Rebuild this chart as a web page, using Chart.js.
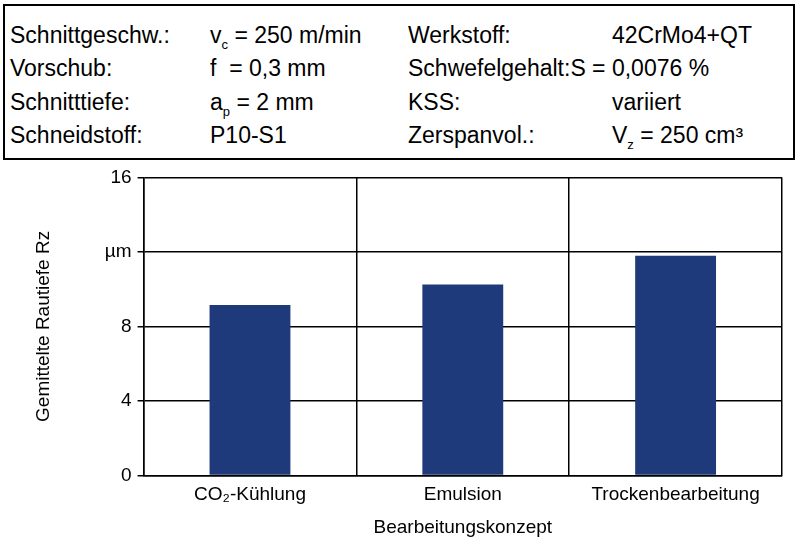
<!DOCTYPE html>
<html><head><meta charset="utf-8">
<script src="https://cdn.jsdelivr.net/npm/chart.js@4"></script>
<style>
body{margin:0;width:800px;height:545px;background:#fff;font-family:"Liberation Sans",Arial,sans-serif;position:relative;overflow:hidden}
#box{position:absolute;left:3px;top:4px;width:788px;height:152px;border:2px solid #000;}
.t{position:absolute;font-size:23px;color:#000;white-space:nowrap}
sub{font-size:13px;color:#000}
#wrap{position:absolute;left:0;top:160px;width:800px;height:385px}
</style></head><body>
<div id="box">
<div class="t" style="left:5px;top:16px">Schnittgeschw.:</div>
<div class="t" style="left:205px;top:16px">v<sub>c</sub> = 250 m/min</div>
<div class="t" style="left:403px;top:16px">Werkstoff:</div>
<div class="t" style="left:607px;top:16px">42CrMo4+QT</div>
<div class="t" style="left:5px;top:49px">Vorschub:</div>
<div class="t" style="left:205px;top:49px">f&nbsp; = 0,3 mm</div>
<div class="t" style="left:403px;top:49px">Schwefelgehalt:S = 0,0076 %</div>
<div class="t" style="left:5px;top:83px">Schnitttiefe:</div>
<div class="t" style="left:205px;top:83px">a<sub>p</sub> = 2 mm</div>
<div class="t" style="left:403px;top:83px">KSS:</div>
<div class="t" style="left:607px;top:83px">variiert</div>
<div class="t" style="left:5px;top:116px">Schneidstoff:</div>
<div class="t" style="left:205px;top:116px">P10-S1</div>
<div class="t" style="left:403px;top:116px">Zerspanvol.:</div>
<div class="t" style="left:607px;top:116px">V<sub>z</sub> = 250 cm³</div>
</div>
<div id="wrap"><canvas id="c"></canvas></div>
<script>
const categories=["CO₂-Kühlung","Emulsion","Trockenbearbeitung"];
const values=[9.15,10.25,11.8];
const tickLabels={0:"0",4:"4",8:"8",12:"µm",16:"16"};
new Chart(document.getElementById('c'),{type:'bar',
data:{labels:categories,datasets:[{data:values,backgroundColor:'#1f3a7a',barPercentage:0.38,categoryPercentage:1}]},
options:{responsive:true,maintainAspectRatio:false,animation:false,
layout:{padding:{top:12,right:18,left:28,bottom:2}},
plugins:{legend:{display:false},tooltip:{enabled:false}},
scales:{
x:{grid:{display:true,color:'#000',lineWidth:1.5,offset:true,drawTicks:false},border:{color:'#000',width:1.5},
ticks:{color:'#000',font:{size:19,family:'Liberation Sans'},padding:8},
title:{display:true,text:'Bearbeitungskonzept',color:'#000',font:{size:19,family:'Liberation Sans'},padding:{top:2}}},
y:{min:0,max:16,grid:{color:'#000',lineWidth:1.5,drawTicks:true,tickLength:6},border:{color:'#000',width:1.5},
ticks:{stepSize:4,color:'#000',font:{size:19,family:'Liberation Sans'},padding:6,callback:v=>tickLabels[v]??''},
title:{display:true,text:'Gemittelte Rautiefe Rz',color:'#000',font:{size:19,family:'Liberation Sans'},padding:{bottom:44}}}
}}});
</script></body></html>
